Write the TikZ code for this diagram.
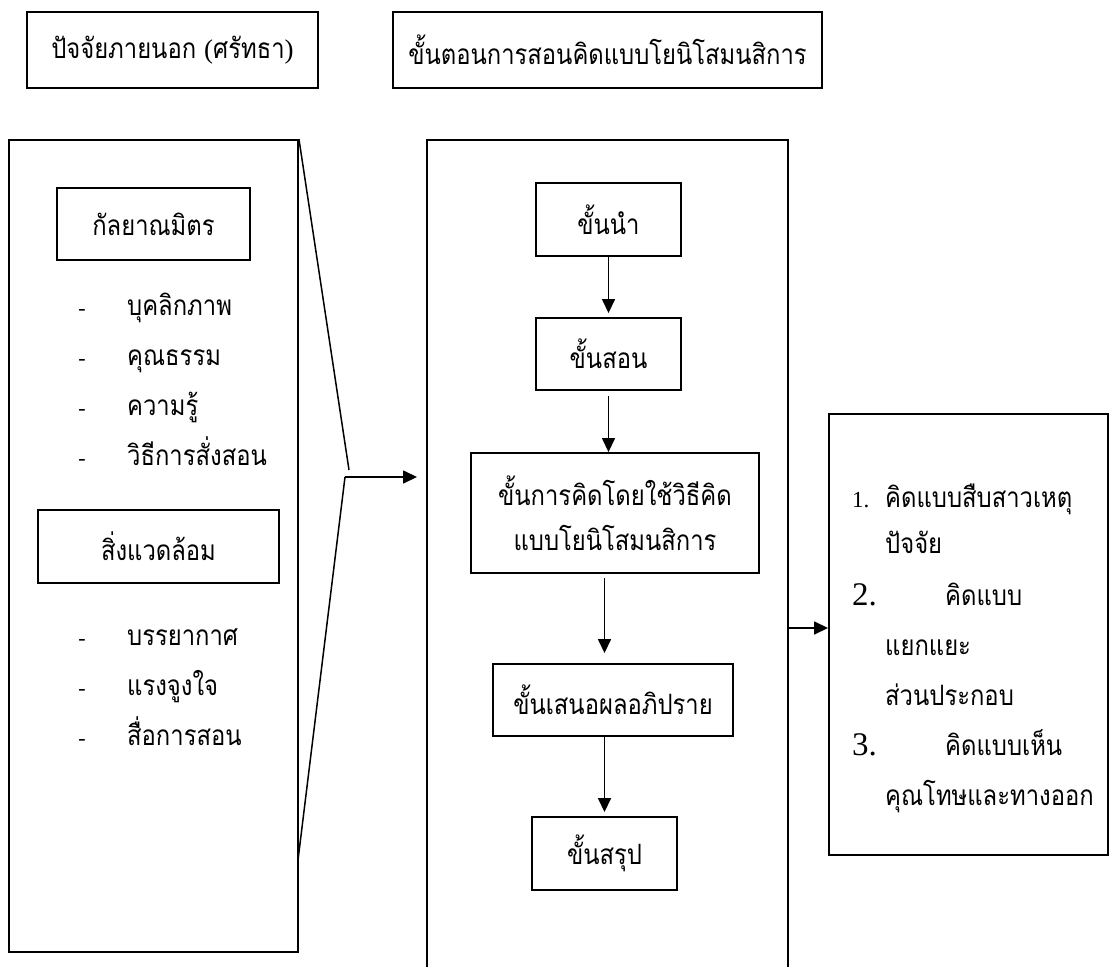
\documentclass[tikz,border=0pt]{standalone}
\usepackage{fontspec}
\setmainfont{Liberation Serif}
\newfontfamily\thaifont[Script=Thai, FakeStretch=0.85]{Loma}
\usetikzlibrary{arrows.meta}
\tikzset{
  thtxt/.style={font=\thaifont\fontsize{28}{45}\selectfont},
  box/.style={draw, line width=1.9pt, inner sep=0pt, align=center, thtxt},
  frame/.style={draw, line width=1.9pt, inner sep=0pt},
  conn/.style={line width=1.5pt},
  arr/.style={conn, -{Triangle[length=14pt,width=13pt]}},
  item/.style={anchor=base west, inner sep=0pt, thtxt},
  dsh/.style={anchor=base, inner sep=0pt, font=\fontsize{22}{24}\selectfont},
  numsm/.style={anchor=base west, inner sep=0pt, font=\fontsize{23}{24}\selectfont},
  numbg/.style={anchor=base west, inner sep=0pt, font=\fontsize{33}{34}\selectfont}
}
\begin{document}
\begin{tikzpicture}[x=1pt,y=-1pt]
\clip (0,0) rectangle (1110,966);
\fill[white] (0,0) rectangle (1110,966);
% titles
\node[box, minimum width=291pt, minimum height=76pt] (t1) at (172.5,50) {ปัจจัยภายนอก {\rmfamily\fontsize{27}{30}\selectfont(}ศรัทธา{\rmfamily\fontsize{27}{30}\selectfont)}};
\node[box, minimum width=429pt, minimum height=76pt] (t2) at (607.5,50) {ขั้นตอนการสอนคิดแบบโยนิโสมนสิการ};
% left column
\node[frame, minimum width=289pt, minimum height=812pt] (L) at (153.5,546) {};
\node[box, minimum width=193pt, minimum height=72pt] (k1) at (153.5,224) {กัลยาณมิตร};
\node[box, minimum width=241pt, minimum height=73pt] (k2) at (158.5,546.5) {สิ่งแวดล้อม};
\node[dsh] (d1) at (82,315) {-};
\node[item] (i1) at (127,315) {บุคลิกภาพ};
\node[dsh] (d2) at (82,365) {-};
\node[item] (i2) at (127,365) {คุณธรรม};
\node[dsh] (d3) at (82,415) {-};
\node[item] (i3) at (127,415) {ความรู้};
\node[dsh] (d4) at (82,465) {-};
\node[item] (i4) at (127,465) {วิธีการสั่งสอน};
\node[dsh] (d5) at (82,645) {-};
\node[item] (i5) at (127,645) {บรรยากาศ};
\node[dsh] (d6) at (82,695) {-};
\node[item] (i6) at (127,695) {แรงจูงใจ};
\node[dsh] (d7) at (82,745) {-};
\node[item] (i7) at (127,745) {สื่อการสอน};
% middle column
\node[frame, minimum width=361pt, minimum height=860pt] (M) at (607.5,570) {};
\node[box, minimum width=145pt, minimum height=73pt] (s1) at (608.5,219.5) {ขั้นนำ};
\node[box, minimum width=145pt, minimum height=72pt] (s2) at (608.5,354) {ขั้นสอน};
\node[box, minimum width=288pt, minimum height=120pt] (s3) at (615,513) {ขั้นการคิดโดยใช้วิธีคิด\\แบบโยนิโสมนสิการ};
\node[box, minimum width=240pt, minimum height=72pt] (s4) at (613,700) {ขั้นเสนอผลอภิปราย};
\node[box, minimum width=145pt, minimum height=73pt] (s5) at (604.5,853.5) {ขั้นสรุป};
% right column
\node[frame, minimum width=279pt, minimum height=441pt] (R) at (968.5,634.5) {};
\node[numsm] (n1) at (852,507) {1.};
\node[item] (r1) at (885,507) {คิดแบบสืบสาวเหตุ};
\node[item] (r2) at (885,553) {ปัจจัย};
\node[numbg] (n2) at (852,605) {2.};
\node[item] (r3) at (945,605) {คิดแบบ};
\node[item] (r4) at (885,655) {แยกแยะ};
\node[item] (r5) at (885,705) {ส่วนประกอบ};
\node[numbg] (n3) at (852,755) {3.};
\node[item] (r6) at (945,755) {คิดแบบเห็น};
\node[item] (r7) at (885,805) {คุณโทษและทางออก};
% connectors
\coordinate (J1) at (349,470);
\coordinate (J2) at (345,477);
\coordinate (Lb) at (298,860);
\coordinate (yR) at (0,628);
\draw[conn] (L.north east) -- (J1);
\draw[conn] (Lb) -- (J2);
\draw[arr, shorten >=9pt] (J2) -- (J2 -| M.west);
\draw[arr, shorten >=4pt] (s1) -- (s2);
\draw[arr, shorten <=5pt] (s2.south) -- (s2.south |- s3.north);
\draw[arr, shorten <=4pt, shorten >=10pt] (s3.south -| s5.north) -- (s4.north -| s5.north);
\draw[arr, shorten >=4pt] (s4.south -| s5.north) -- (s5.north);
\draw[arr] (M.east |- yR) -- (R.west |- yR);
\end{tikzpicture}
\end{document}
